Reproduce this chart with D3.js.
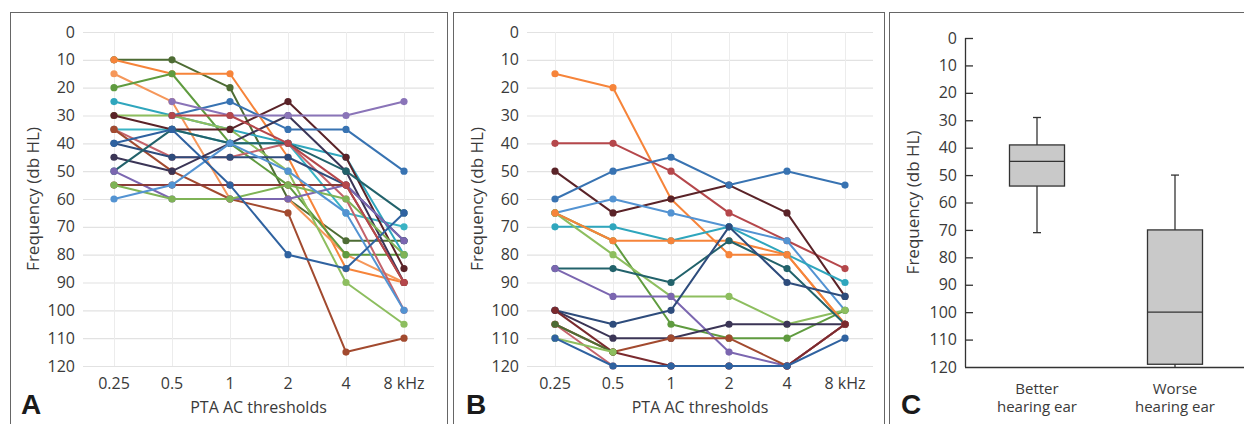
<!DOCTYPE html>
<html>
<head>
<meta charset="utf-8">
<script src="https://cdn.jsdelivr.net/npm/d3@7"></script>
<style>
  body { margin: 0; background: #fff; }
  svg { display: block; font-family: "Open Sans", sans-serif; }
</style>
</head>
<body>
<svg id="chart" width="1244" height="424"></svg>
<script>
// frequencies on x, hearing level on y
const freqs = ["0.25", "0.5", "1", "2", "4", "8 kHz"];
const yTicks = [0, 10, 20, 30, 40, 50, 60, 70, 80, 90, 100, 110, 120];

// panel A: one row per patient (better ear)
const valuesA = [
  [10, 10, 20, 60, 75, 75],
  [10, 15, 15, 45, 85, 90],
  [15, 25, 60, 60, 80, 90],
  [20, 15, 40, 55, 80, 80],
  [25, 30, 35, 40, 45, 80],
  [35, 35, 40, 40, 65, 70],
  [30, 30, 35, 50, 90, 105],
  [30, 35, 35, 25, 45, 85],
  [35, 45, 45, 40, 60, 100],
  [35, 50, 60, 65, 115, 110],
  [null, 30, 25, 35, 35, 50],
  [40, 45, 45, 45, 55, 75],
  [45, 50, 40, 30, 50, 90],
  [50, 35, 40, 40, 50, 65],
  [50, 60, 60, 60, 55, 75],
  [55, 55, 55, 55, 55, 90],
  [55, 60, 60, 55, 60, 80],
  [60, 55, 40, 50, 65, 100],
  [40, 35, 55, 80, 85, 65],
  [null, 25, 30, 30, 30, 25],
  [null, 30, 30, 40, 55, 90]
];
const colorsA = [
  "#4e6c34", "#f6843a", "#f5975a", "#5f9b3f", "#2fa6bd", "#3ab3c4",
  "#8dbe5f", "#5a2328", "#c4636b", "#a24a2f", "#3873b2", "#2e4c7c",
  "#3b3556", "#22626b", "#7b66b0", "#8b3b38", "#7fb356", "#5393d2",
  "#2f62a0", "#8a74b8", "#b5474b"
];

// panel B: worse ear
const valuesB = [
  [15, 20, 60, 80, 80, 105],
  [40, 40, 50, 65, 75, 85],
  [50, 65, 60, 55, 65, 95],
  [60, 50, 45, 55, 50, 55],
  [65, 60, 65, 70, 75, 100],
  [70, 70, 75, 70, 80, 90],
  [65, 75, 105, 110, 110, 100],
  [65, 80, 95, 95, 105, 100],
  [65, 75, 75, 75, 80, 105],
  [85, 85, 90, 75, 85, 105],
  [85, 95, 95, 115, 120, 105],
  [100, 105, 100, 70, 90, 95],
  [100, 110, 110, 105, 105, 105],
  [105, 115, 110, 110, 120, 105],
  [105, 120, 120, 120, 120, 105],
  [100, 115, 120, 120, 120, 105],
  [105, 115, null, null, null, null],
  [110, 115, null, null, null, null],
  [110, 120, 120, 120, 120, 110]
];
const colorsB = [
  "#f6843a", "#b5474b", "#5a2328", "#3873b2", "#5393d2", "#2fa6bd",
  "#5f9b3f", "#8dbe5f", "#f6843a", "#22626b", "#7b66b0", "#2e4c7c",
  "#3b3556", "#a24a2f", "#c4636b", "#7a2a2e", "#4e6c34", "#8dbe5f",
  "#2f62a0"
];

// panel C: box plot summary
const groups = ["Better|hearing ear", "Worse|hearing ear"];
const whiskerLow = [29, 50];
const q1 = [39, 70];
const median = [45, 100];
const q3 = [54, 119];
const whiskerHigh = [71, 120];

const svg = d3.select("#chart");
const textColor = "#3a3a3a";
const fs = 16;

// panel frames
svg.append("rect").attr("x", 10.5).attr("y", 12.5).attr("width", 437).attr("height", 430)
  .attr("fill", "none").attr("stroke", "#666");
svg.append("rect").attr("x", 453.5).attr("y", 12.5).attr("width", 431).attr("height", 430)
  .attr("fill", "none").attr("stroke", "#666");
svg.append("rect").attr("x", 889.5).attr("y", 12.5).attr("width", 400).attr("height", 430)
  .attr("fill", "none").attr("stroke", "#666");

function drawLinePanel(cfg, values, colors) {
  const x = d3.scalePoint().domain(freqs).range([cfg.x0, cfg.x1]);
  const y = d3.scaleLinear().domain([0, 120]).range([32, 366]);
  const g = svg.append("g");

  // grid
  g.selectAll(".hgrid").data(yTicks).join("line")
    .attr("x1", cfg.gx0).attr("x2", cfg.gx1)
    .attr("y1", d => y(d) + 0.5).attr("y2", d => y(d) + 0.5)
    .attr("stroke", "#e2e2e2").attr("stroke-width", 1.2);
  g.selectAll(".vgrid").data(freqs).join("line")
    .attr("x1", d => x(d) + 0.5).attr("x2", d => x(d) + 0.5)
    .attr("y1", y(0)).attr("y2", y(120))
    .attr("stroke", "#ececec").attr("stroke-width", 1);

  // tick labels
  g.selectAll(".ylab").data(yTicks).join("text")
    .attr("x", cfg.gx0 - 8).attr("y", d => y(d)).attr("dy", "0.35em")
    .attr("text-anchor", "end").attr("font-size", fs).attr("fill", textColor)
    .text(d => d);
  g.selectAll(".xlab").data(freqs).join("text")
    .attr("x", d => x(d)).attr("y", 389)
    .attr("text-anchor", "middle").attr("font-size", fs).attr("fill", textColor)
    .text(d => d);

  // titles
  g.append("text")
    .attr("x", (cfg.gx0 + cfg.gx1) / 2).attr("y", 413)
    .attr("text-anchor", "middle").attr("font-size", fs).attr("fill", textColor)
    .text("PTA AC thresholds");
  g.append("text")
    .attr("transform", `translate(${cfg.ytx},${(y(0) + y(120)) / 2}) rotate(-90)`)
    .attr("text-anchor", "middle").attr("dy", "0.35em")
    .attr("font-size", fs + 1).attr("fill", textColor)
    .text("Frequency (db HL)");
  g.append("text")
    .attr("x", cfg.lx).attr("y", 414)
    .attr("font-family", "Liberation Sans, Arial, sans-serif")
    .attr("font-weight", "bold").attr("font-size", 28).attr("fill", "#1a1a1a")
    .text(cfg.letter);

  const line = d3.line()
    .defined(d => d[1] != null)
    .x(d => x(d[0])).y(d => y(d[1]));

  values.forEach((vals, i) => {
    const pts = vals.map((v, j) => [freqs[j], v]);
    g.append("path")
      .attr("d", line(pts))
      .attr("fill", "none").attr("stroke", colors[i])
      .attr("stroke-width", 2).attr("stroke-linejoin", "round");
    g.selectAll(null).data(pts.filter(p => p[1] != null)).join("circle")
      .attr("cx", p => x(p[0])).attr("cy", p => y(p[1]))
      .attr("r", 3.6).attr("fill", colors[i]);
  });
}

drawLinePanel({ x0: 114, x1: 404, gx0: 83, gx1: 434, ytx: 33, lx: 21, letter: "A" }, valuesA, colorsA);
drawLinePanel({ x0: 555, x1: 845, gx0: 527, gx1: 873, ytx: 477, lx: 466, letter: "B" }, valuesB, colorsB);

// panel C box plot
(function () {
  const y = d3.scaleLinear().domain([0, 120]).range([38, 367]);
  const x = d3.scalePoint().domain(groups).range([1037, 1175]);
  const g = svg.append("g");
  const boxW = 55;
  const capW = 8;

  g.append("line").attr("x1", 965.5).attr("x2", 965.5).attr("y1", y(0)).attr("y2", y(120))
    .attr("stroke", "#333").attr("stroke-width", 1.3);
  g.append("line").attr("x1", 965).attr("x2", 1244).attr("y1", y(120) + 0.5).attr("y2", y(120) + 0.5)
    .attr("stroke", "#333").attr("stroke-width", 1.3);
  g.selectAll(".tk").data(yTicks.slice(0, -1)).join("line")
    .attr("x1", 965).attr("x2", 973)
    .attr("y1", d => y(d) + 0.5).attr("y2", d => y(d) + 0.5)
    .attr("stroke", "#333").attr("stroke-width", 1.3);
  g.selectAll(".yl").data(yTicks).join("text")
    .attr("x", 957).attr("y", d => y(d)).attr("dy", "0.35em")
    .attr("text-anchor", "end").attr("font-size", fs).attr("fill", textColor)
    .text(d => d);
  g.append("text")
    .attr("transform", `translate(913,${(y(0) + y(120)) / 2}) rotate(-90)`)
    .attr("text-anchor", "middle").attr("dy", "0.35em")
    .attr("font-size", fs + 1).attr("fill", textColor)
    .text("Frequency (db HL)");
  g.append("text")
    .attr("x", 901).attr("y", 414)
    .attr("font-family", "Liberation Sans, Arial, sans-serif")
    .attr("font-weight", "bold").attr("font-size", 28).attr("fill", "#1a1a1a")
    .text("C");

  groups.forEach((grp, i) => {
    const cx = x(grp);
    g.append("line").attr("x1", cx).attr("x2", cx)
      .attr("y1", y(whiskerLow[i])).attr("y2", y(whiskerHigh[i]))
      .attr("stroke", "#333").attr("stroke-width", 1.3);
    [whiskerLow[i], whiskerHigh[i]].forEach(v => {
      if (v < 120) {
        g.append("line").attr("x1", cx - capW / 2).attr("x2", cx + capW / 2)
          .attr("y1", y(v)).attr("y2", y(v))
          .attr("stroke", "#333").attr("stroke-width", 1.3);
      }
    });
    g.append("rect")
      .attr("x", cx - boxW / 2).attr("y", y(q1[i]))
      .attr("width", boxW).attr("height", y(q3[i]) - y(q1[i]))
      .attr("fill", "#c9c9c9").attr("stroke", "#333").attr("stroke-width", 1.3);
    g.append("line").attr("x1", cx - boxW / 2).attr("x2", cx + boxW / 2)
      .attr("y1", y(median[i])).attr("y2", y(median[i]))
      .attr("stroke", "#333").attr("stroke-width", 1.3);
    const parts = grp.split("|");
    parts.forEach((p, k) => {
      g.append("text").attr("x", cx).attr("y", 394 + k * 18)
        .attr("text-anchor", "middle").attr("font-size", 15).attr("fill", textColor)
        .text(p);
    });
  });
})();
</script>
</body>
</html>
